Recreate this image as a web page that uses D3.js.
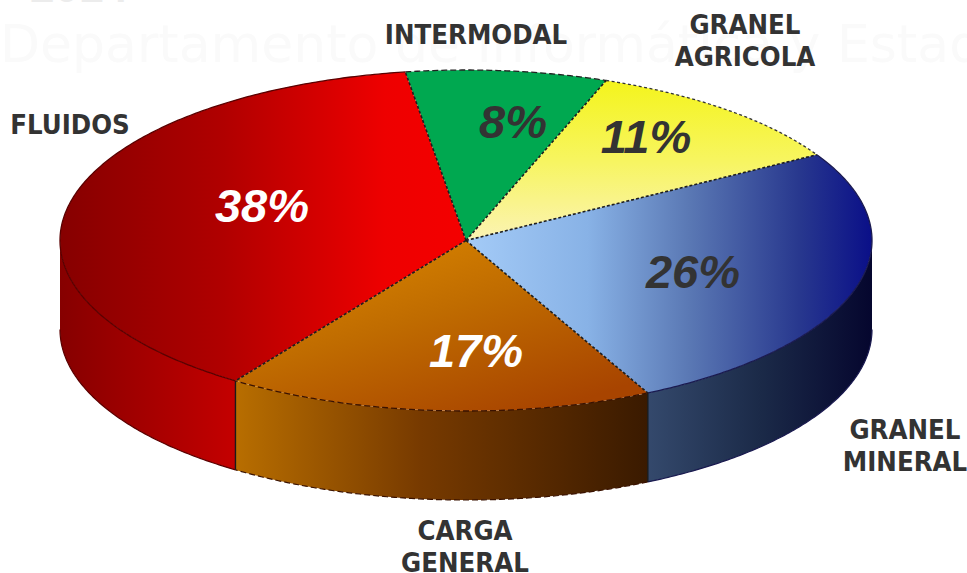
<!DOCTYPE html>
<html>
<head>
<meta charset="utf-8">
<style>
  html, body { margin: 0; background: #fff; }
  svg { display: block; }
</style>
</head>
<body>
<svg class="chart" width="967" height="573"></svg>
<script src="https://d3js.org/d3.v7.min.js"></script>
<script>
  // data
  const categories = ['INTERMODAL', 'GRANEL AGRICOLA', 'GRANEL MINERAL', 'CARGA GENERAL', 'FLUIDOS']
  const values = [8, 11, 26, 17, 38]
  const valueLabels = ['8%', '11%', '26%', '17%', '38%']

  const width = 967, height = 573
  const cx = 466, cy = 240.5, rx = 406, ry = 170.5, depth = 89
  const startDeg = -8.6

  const svg = d3.select('.chart').attr('viewBox', [0, 0, width, height])
  const defs = svg.append('defs')

  function gradient(id, dir, stops) {
    const g = defs.append('linearGradient').attr('id', id)
      .attr('x1', dir[0]).attr('y1', dir[1]).attr('x2', dir[2]).attr('y2', dir[3])
    g.selectAll('stop').data(stops).join('stop')
      .attr('offset', d => d[0]).attr('stop-color', d => d[1])
  }
  const h = [0, 0, 1, 0]
  gradient('top0', h, [[0, '#00a850'], [1, '#00a850']])
  gradient('top1', [0, 0, 0, 1], [[0, '#f4f41c'], [.5, '#f7f560'], [1, '#fbf3b4']])
  gradient('top2', h, [[0, '#a4cbf7'], [.3, '#88b2e6'], [.55, '#5a78b4'], [.82, '#28388e'], [1, '#0a0f88']])
  gradient('top3', [0, 0, .75, 1], [[0, '#e08c00'], [.5, '#c06c00'], [1, '#a84400']])
  gradient('top4', h, [[0, '#860000'], [.4, '#b00000'], [.8, '#ee0000'], [1, '#f40000']])
  gradient('side2', h, [[0, '#34496c'], [.5, '#1b2a48'], [1, '#05062e']])
  gradient('side3', h, [[0, '#b86e00'], [.45, '#773a00'], [1, '#3a1a00']])
  gradient('side4', h, [[0, '#860000'], [1, '#c40000']])

  // rim styles per slice
  const rimColor = ['#222222', '#333333', '#1a1a50', '#3a1200', '#5a0000']
  const rimDash = ['6 3', '3 2.5', null, '6 3', null]

  // pie angles
  const pie = d3.pie().sort(null)
    .startAngle(startDeg * Math.PI / 180)
    .endAngle((startDeg + 360) * Math.PI / 180)
  const slices = pie(values)

  const xAt = d3.scaleLinear().domain([-1, 1]).range([cx - rx, cx + rx])
  const yAt = d3.scaleLinear().domain([-1, 1]).range([cy - ry, cy + ry])
  const px = a => xAt(Math.sin(a))
  const py = a => yAt(-Math.cos(a))
  const sweep = (a0, a1) => d3.range(a0, a1, 0.01).concat([a1])

  // faint watermark behind the pie
  svg.append('text').text('2014')
    .attr('x', 30).attr('y', 2)
    .attr('font-family', 'Liberation Sans').attr('font-weight', 700).attr('font-size', 44)
    .attr('fill', '#ececec')
  svg.append('text').text('Departamento de Informática y Estadística')
    .attr('x', 0).attr('y', 62)
    .attr('font-family', 'DejaVu Sans').attr('font-size', 52)
    .attr('fill', '#fafafa')

  // side walls, only the front half of the ellipse shows
  const wall = d3.area().x(a => px(a)).y0(a => py(a)).y1(a => py(a) + depth)
  const rimLine = d3.line().x(a => px(a)).y(a => py(a))
  const bottomLine = d3.line().x(a => px(a)).y(a => py(a) + depth)
  const sides = svg.append('g')
  slices.forEach((s, i) => {
    const a0 = Math.max(s.startAngle, Math.PI / 2)
    const a1 = Math.min(s.endAngle, Math.PI * 1.5)
    if (a1 <= a0) return
    const steps = sweep(a0, a1)
    sides.append('path').attr('d', wall(steps))
      .attr('fill', `url(#side${i})`)
    sides.append('path').attr('d', bottomLine(steps))
      .attr('fill', 'none').attr('stroke', rimColor[i]).attr('stroke-width', 1.2)
      .attr('stroke-dasharray', rimDash[i])
    if (a0 === s.startAngle) {
      sides.append('line')
        .attr('x1', px(a0)).attr('x2', px(a0))
        .attr('y1', py(a0)).attr('y2', py(a0) + depth)
        .attr('stroke', '#1a1a1a').attr('stroke-width', 1.4)
    }
  })

  // top of the pie
  const arc = d3.arc().innerRadius(0).outerRadius(rx)
  svg.append('g')
    .attr('transform', `translate(${cx},${cy}) scale(1,${ry / rx})`)
    .selectAll('path').data(slices).join('path')
    .attr('d', arc)
    .attr('fill', (d, i) => `url(#top${i})`)

  // rim of the top face
  svg.append('g').selectAll('path').data(slices).join('path')
    .attr('d', d => rimLine(sweep(d.startAngle, d.endAngle)))
    .attr('fill', 'none')
    .attr('stroke', (d, i) => rimColor[i])
    .attr('stroke-width', 1.3)
    .attr('stroke-dasharray', (d, i) => rimDash[i])

  // spokes between the slices
  svg.append('g').selectAll('line').data(slices).join('line')
    .attr('x1', cx).attr('y1', cy)
    .attr('x2', d => px(d.startAngle)).attr('y2', d => py(d.startAngle))
    .attr('stroke', '#1e1e1e').attr('stroke-width', 1.6)
    .attr('stroke-dasharray', '3 2')

  // percentages
  const pctX = [513, 646, 693, 476, 262]
  const pctY = [138, 153, 288, 367, 222]
  const pctFill = ['#333333', '#333333', '#333333', '#ffffff', '#ffffff']
  svg.append('g').selectAll('text').data(valueLabels).join('text')
    .text(d => d)
    .attr('x', (d, i) => pctX[i]).attr('y', (d, i) => pctY[i])
    .attr('text-anchor', 'middle')
    .attr('font-family', 'Liberation Sans').attr('font-weight', 700).attr('font-style', 'italic')
    .attr('font-size', 47)
    .attr('fill', (d, i) => pctFill[i])

  // category labels
  const labelX = [476, 745, 905, 465, 70]
  const labelY = [44, 34, 439, 540, 134]
  const labels = svg.append('g')
    .attr('font-family', 'DejaVu Sans').attr('font-weight', 700).attr('font-size', 27.3)
    .attr('font-stretch', 'condensed')
    .attr('fill', '#333333').attr('text-anchor', 'middle')
  categories.forEach((c, i) => {
    c.split(' ').forEach((w, j) => {
      labels.append('text').text(w)
        .attr('x', labelX[i]).attr('y', labelY[i] + j * 32)
    })
  })
</script>
</body>
</html>
